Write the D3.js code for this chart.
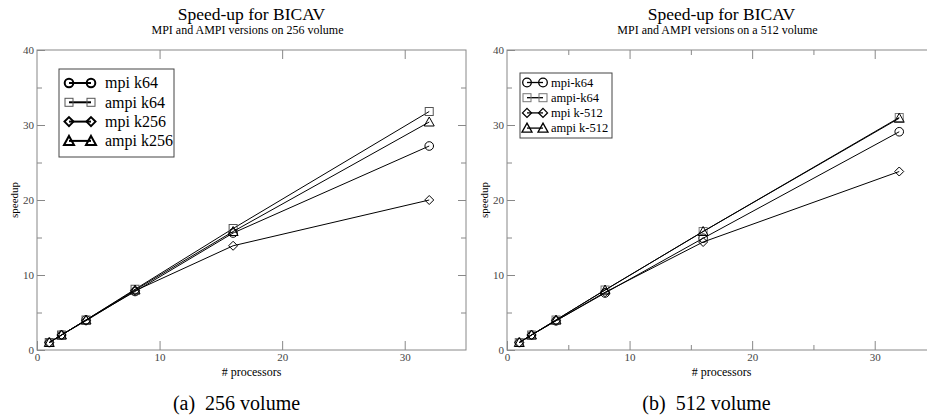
<!DOCTYPE html>
<html>
<head>
<meta charset="utf-8">
<title>Speed-up for BICAV</title>
<script src="https://d3js.org/d3.v7.min.js"></script>
<style>
  body { margin: 0; background: #fff; }
  svg { display: block; font-family: "Liberation Serif", "Times New Roman", serif; }
  .axis path { stroke: #888; }
  .axis line { stroke: #888; }
  .axis text { fill: #444; font-size: 11px; font-family: "Liberation Serif", serif; }
</style>
</head>
<body>
<div class="chart"></div>
<script>
  // x values shared by both panels
  const procs = [1, 2, 4, 8, 16, 32];

  // panel (a): 256 volume
  const mpiK64a   = [1, 2, 4, 7.8, 15.6, 27.2];
  const ampiK64a  = [1, 2, 4, 8.1, 16.2, 31.8];
  const mpiK256a  = [1, 2, 3.9, 7.9, 13.9, 20.0];
  const ampiK256a = [1, 2, 4, 8.0, 15.8, 30.4];

  // panel (b): 512 volume
  const mpiK64b   = [1, 2, 3.9, 7.6, 14.9, 29.1];
  const ampiK64b  = [1, 2, 4, 8.0, 15.8, 31.0];
  const mpiK512b  = [1, 2, 3.9, 7.7, 14.4, 23.8];
  const ampiK512b = [1, 2, 4, 8.0, 15.8, 30.9];

  const xTicks = [0, 10, 20, 30];
  const yTicks = [0, 10, 20, 30, 40];
  const minorTicks = [5, 15, 25, 35];

  const svg = d3.select('.chart')
    .append('svg')
    .attr('width', 927)
    .attr('height', 416);

  // marker shapes
  function marker(g, type, cx, cy, sw, col) {
    if (type === 'circle') {
      g.append('circle').attr('cx', cx).attr('cy', cy).attr('r', 4.3)
        .attr('fill', 'none').attr('stroke', col).attr('stroke-width', sw);
    } else if (type === 'square') {
      g.append('rect').attr('x', cx - 4).attr('y', cy - 4).attr('width', 8).attr('height', 8)
        .attr('fill', 'none').attr('stroke', col).attr('stroke-width', sw);
    } else if (type === 'diamond') {
      g.append('path').attr('d', `M${cx},${cy - 4.5}L${cx + 4.5},${cy}L${cx},${cy + 4.5}L${cx - 4.5},${cy}Z`)
        .attr('fill', 'none').attr('stroke', col).attr('stroke-width', sw);
    } else {
      g.append('path').attr('d', `M${cx},${cy - 5}L${cx + 5},${cy + 4}L${cx - 5},${cy + 4}Z`)
        .attr('fill', 'none').attr('stroke', col).attr('stroke-width', sw);
    }
  }

  function panel(opt) {
    const x = d3.scaleLinear().domain([0, 35]).range([opt.left, opt.left + 429]);
    const y = d3.scaleLinear().domain([0, 40]).range([350, 50]);
    const g = svg.append('g');

    // frame
    g.append('rect')
      .attr('x', x(0)).attr('y', y(40))
      .attr('width', x(35) - x(0)).attr('height', y(0) - y(40))
      .attr('fill', 'none').attr('stroke', '#888');

    // major ticks
    g.append('g').attr('class', 'axis').attr('transform', `translate(0,${y(0)})`)
      .call(d3.axisBottom(x).tickValues(xTicks).tickSize(-9).tickPadding(3).tickFormat(d3.format('d')))
      .call(a => a.select('.domain').remove());
    g.append('g').attr('class', 'axis').attr('transform', `translate(0,${y(40)})`)
      .call(d3.axisTop(x).tickValues(xTicks.slice(1)).tickSize(-9).tickFormat(''))
      .call(a => a.select('.domain').remove());
    g.append('g').attr('class', 'axis').attr('transform', `translate(${x(0)},0)`)
      .call(d3.axisLeft(y).tickValues(yTicks).tickSize(-8).tickPadding(3).tickFormat(d3.format('d')))
      .call(a => a.select('.domain').remove());
    g.append('g').attr('class', 'axis').attr('transform', `translate(${x(35)},0)`)
      .call(d3.axisRight(y).tickValues(yTicks.slice(1, 4)).tickSize(-8).tickFormat(''))
      .call(a => a.select('.domain').remove());

    // minor ticks
    if (opt.xMinor) {
      g.append('g').attr('class', 'axis').attr('transform', `translate(0,${y(0)})`)
        .call(d3.axisBottom(x).tickValues(minorTicks).tickSize(-5).tickFormat(''))
        .call(a => a.select('.domain').remove());
      g.append('g').attr('class', 'axis').attr('transform', `translate(0,${y(40)})`)
        .call(d3.axisTop(x).tickValues(minorTicks).tickSize(-5).tickFormat(''))
        .call(a => a.select('.domain').remove());
    }
    g.append('g').attr('class', 'axis').attr('transform', `translate(${x(0)},0)`)
      .call(d3.axisLeft(y).tickValues(minorTicks).tickSize(-5).tickFormat(''))
      .call(a => a.select('.domain').remove());
    g.append('g').attr('class', 'axis').attr('transform', `translate(${x(35)},0)`)
      .call(d3.axisRight(y).tickValues(minorTicks).tickSize(-5).tickFormat(''))
      .call(a => a.select('.domain').remove());

    // titles
    const cx = (x(0) + x(35)) / 2;
    g.append('text').attr('x', cx).attr('y', 20).attr('text-anchor', 'middle')
      .attr('font-size', '17.5px').text('Speed-up for BICAV');
    g.append('text').attr('x', cx - 4).attr('y', 34).attr('text-anchor', 'middle')
      .attr('font-size', '12px').text(opt.subtitle);
    g.append('text').attr('x', cx).attr('y', 376).attr('text-anchor', 'middle')
      .attr('font-size', '12px').text('# processors');
    g.append('text').attr('transform', `translate(${x(0) - 19},${y(20)}) rotate(-90)`)
      .attr('text-anchor', 'middle').attr('font-size', '11px').text('speedup');
    g.append('text').attr('x', cx - 15).attr('y', 410).attr('text-anchor', 'middle')
      .attr('font-size', '20px').attr('xml:space', 'preserve').text(opt.caption);

    // series
    const line = d3.line().x((d, i) => x(procs[i])).y(d => y(d));
    opt.series.forEach(s => {
      g.append('path').datum(s.values).attr('d', line)
        .attr('fill', 'none').attr('stroke', '#000').attr('stroke-width', 1);
      s.values.forEach((v, i) => marker(g, s.shape, x(procs[i]), y(v), 1, s.color));
    });

    // legend
    const L = opt.legend;
    g.append('rect').attr('x', L.x).attr('y', L.y).attr('width', L.w).attr('height', L.h)
      .attr('fill', '#fff').attr('stroke', '#444');
    opt.series.forEach((s, i) => {
      const ry = L.y + L.first + i * L.step;
      g.append('line').attr('x1', L.m1).attr('x2', L.m2).attr('y1', ry).attr('y2', ry)
        .attr('stroke', '#000').attr('stroke-width', L.sw);
      marker(g, s.shape, L.m1, ry, s.shape === 'square' ? 1 : L.sw, s.color);
      marker(g, s.shape, L.m2, ry, s.shape === 'square' ? 1 : L.sw, s.color);
      g.append('text').attr('x', L.tx).attr('y', ry + L.fs * 0.33)
        .attr('font-size', L.fs + 'px').text(s.name);
    });
  }

  panel({
    left: 37,
    xMinor: false,
    subtitle: 'MPI and AMPI versions on 256 volume',
    caption: '(a)  256 volume',
    series: [
      { name: 'mpi k64', values: mpiK64a, shape: 'circle', color: '#000' },
      { name: 'ampi k64', values: ampiK64a, shape: 'square', color: '#555' },
      { name: 'mpi k256', values: mpiK256a, shape: 'diamond', color: '#000' },
      { name: 'ampi k256', values: ampiK256a, shape: 'triangle', color: '#000' }
    ],
    legend: { x: 59, y: 69, w: 115, h: 88, first: 14, step: 19.3, m1: 69, m2: 91, tx: 105, fs: 16, sw: 2 }
  });

  panel({
    left: 507,
    xMinor: true,
    subtitle: 'MPI and AMPI versions on a 512 volume',
    caption: '(b)  512 volume',
    series: [
      { name: 'mpi-k64', values: mpiK64b, shape: 'circle', color: '#000' },
      { name: 'ampi-k64', values: ampiK64b, shape: 'square', color: '#777' },
      { name: 'mpi k-512', values: mpiK512b, shape: 'diamond', color: '#000' },
      { name: 'ampi k-512', values: ampiK512b, shape: 'triangle', color: '#000' }
    ],
    legend: { x: 520, y: 73, w: 92, h: 65, first: 9.5, step: 15.2, m1: 527, m2: 543, tx: 551, fs: 12.5, sw: 1.3 }
  });
</script>
</body>
</html>
